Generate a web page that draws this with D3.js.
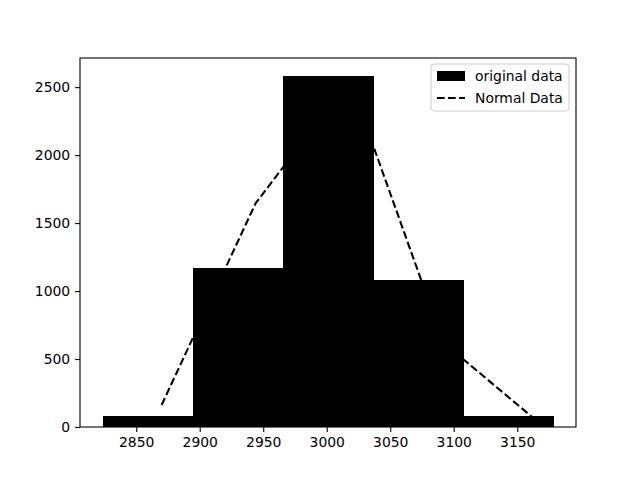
<!DOCTYPE html>
<html lang="en">
<head>
<meta charset="UTF-8" />
<title>Histogram</title>
<script src="https://cdnjs.cloudflare.com/ajax/libs/d3/7.6.1/d3.min.js"></script>
<style>
  body { margin: 0; background: #fff; }
  text { font-family: "DejaVu Sans", sans-serif; }
</style>
</head>
<body>
<div id="chart"></div>
<script>
// histogram bins (edges) and counts
const binEdges = [2823.5, 2894.5, 2965.5, 3036.5, 3107.5, 3178.5];
const counts = [81, 1169, 2585, 1081, 81];

// normal data line
const normalX = [2870, 2944, 3018, 3092, 3166];
const normalY = [162, 1645, 2555, 620, 40];

const xTicks = [2850, 2900, 2950, 3000, 3050, 3100, 3150];
const yTicks = [0, 500, 1000, 1500, 2000, 2500];

const width = 640, height = 480;
const margin = { left: 80, right: 64, top: 58, bottom: 53 };

const svg = d3.select("#chart").append("svg")
    .attr("width", width)
    .attr("height", height);

const span = binEdges[binEdges.length - 1] - binEdges[0];
const x = d3.scaleLinear()
    .domain([binEdges[0] - span * 0.05, binEdges[binEdges.length - 1] + span * 0.05])
    .range([margin.left, width - margin.right]);
const y = d3.scaleLinear()
    .domain([0, d3.max(counts) * 1.05])
    .range([height - margin.bottom, margin.top]);

// dashed line (behind the bars)
const pts = normalX.map((d, i) => [d, normalY[i]]);
svg.append("path")
    .datum(pts)
    .attr("fill", "none")
    .attr("stroke", "#000")
    .attr("stroke-width", 2.08)
    .attr("stroke-dasharray", "7.7,3.3")
    .attr("d", d3.line().x(d => x(d[0])).y(d => y(d[1])));

// bars
const bins = counts.map((c, i) => ({ x0: binEdges[i], x1: binEdges[i + 1], c }));
svg.append("g")
    .attr("shape-rendering", "crispEdges")
    .selectAll("rect")
    .data(bins)
    .join("rect")
    .attr("x", d => x(d.x0))
    .attr("width", d => x(d.x1) - x(d.x0) + 0.5)
    .attr("y", d => y(d.c))
    .attr("height", d => y(0) - y(d.c))
    .attr("fill", "#000");

// axes
const fmt = d3.format("d");
const xAxis = svg.append("g")
    .attr("transform", `translate(0,${height - margin.bottom})`)
    .call(d3.axisBottom(x).tickValues(xTicks).tickFormat(fmt).tickSizeOuter(0).tickSize(4.9).tickPadding(4.9));
const yAxis = svg.append("g")
    .attr("transform", `translate(${margin.left},0)`)
    .call(d3.axisLeft(y).tickValues(yTicks).tickFormat(fmt).tickSizeOuter(0).tickSize(4.9).tickPadding(4.9));
[xAxis, yAxis].forEach(g => {
    g.select(".domain").remove();
    g.selectAll("line").attr("stroke-width", 1.1);
    g.selectAll("text").attr("font-size", "13.9px").attr("fill", "#000")
        .style("font-family", "'DejaVu Sans', sans-serif");
});

// frame
svg.append("rect")
    .attr("x", margin.left)
    .attr("y", margin.top)
    .attr("width", width - margin.left - margin.right)
    .attr("height", height - margin.top - margin.bottom)
    .attr("fill", "none")
    .attr("stroke", "#000")
    .attr("stroke-width", 1.1);

// legend
const lg = svg.append("g").attr("transform", "translate(431,64)");
lg.append("rect")
    .attr("width", 138).attr("height", 47)
    .attr("rx", 3)
    .attr("fill", "#fff").attr("fill-opacity", 0.8)
    .attr("stroke", "#ccc");
lg.append("rect")
    .attr("x", 6).attr("y", 7).attr("width", 28).attr("height", 10)
    .attr("fill", "#000");
lg.append("line")
    .attr("x1", 6).attr("x2", 34).attr("y1", 34).attr("y2", 34)
    .attr("stroke", "#000").attr("stroke-width", 2.08)
    .attr("stroke-dasharray", "7.7,3.3");
lg.append("text").attr("x", 44).attr("y", 17).attr("font-size", "13.9px").text("original data");
lg.append("text").attr("x", 44).attr("y", 39).attr("font-size", "13.9px").text("Normal Data");
</script>
</body>
</html>
